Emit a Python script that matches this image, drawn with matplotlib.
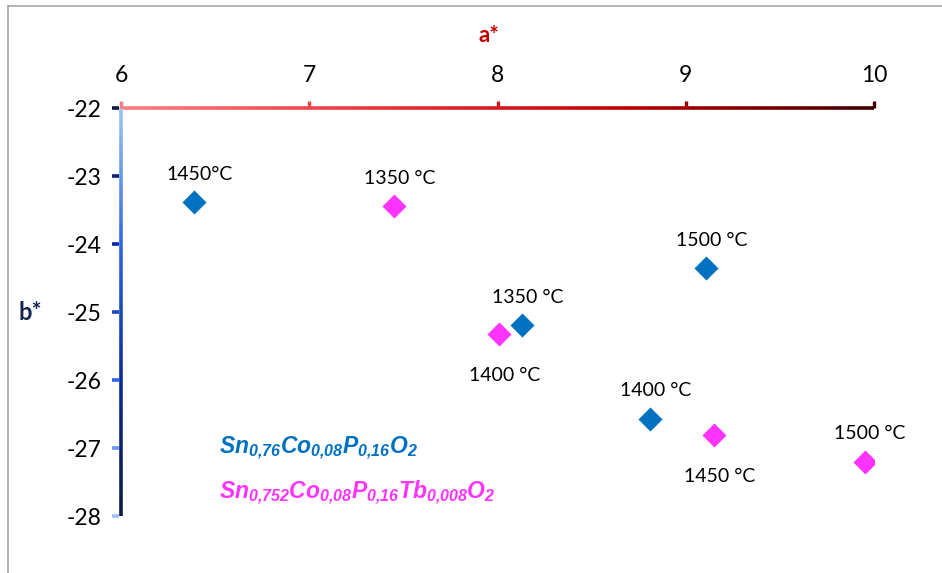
import numpy as np
import matplotlib.pyplot as plt
from matplotlib.collections import LineCollection
from matplotlib.colors import LinearSegmentedColormap
from matplotlib.lines import Line2D

plt.rcParams['font.family'] = ['Lato', 'DejaVu Sans']
plt.rcParams['axes.unicode_minus'] = False
plt.rcParams['mathtext.fontset'] = 'custom'
plt.rcParams['mathtext.it'] = 'Liberation Sans:italic:bold'
plt.rcParams['mathtext.rm'] = 'Liberation Sans:italic:bold'

# data
a_co = [6.39, 9.11, 8.13, 8.81]
b_co = [-23.38, -24.35, -25.19, -26.57]
t_co = ['1450°C', '1500 °C', '1350 °C', '1400 °C']
pos_co = ['above', 'above', 'above', 'above']

a_tb = [7.45, 8.01, 9.15, 9.95]
b_tb = [-23.44, -25.32, -26.81, -27.2]
t_tb = ['1350 °C', '1400 °C', '1450 °C', '1500 °C']
pos_tb = ['above', 'below', 'below', 'above']

xticks = [6, 7, 8, 9, 10]
yticks = [-22, -23, -24, -25, -26, -27, -28]

blue = '#0070C0'
pink = '#FF33FF'

fig = plt.figure(figsize=(9.42, 5.73), dpi=100)
ax = fig.add_axes([121 / 942, 1 - 516 / 573, 753 / 942, 408 / 573])

# frame of the chart area (only left and top visible)
fig.add_artist(Line2D([8 / 942, 8 / 942], [0, 1 - 6 / 573], color='#A6A6A6', lw=1.2))
fig.add_artist(Line2D([8 / 942, 1], [1 - 6 / 573, 1 - 6 / 573], color='#A6A6A6', lw=1.2))

ax.scatter(a_co, b_co, marker='D', s=150, color=blue, zorder=3, linewidths=0)
ax.scatter(a_tb, b_tb, marker='D', s=150, color=pink, zorder=3, linewidths=0)

for xs, ys, ts, ps in [(a_co, b_co, t_co, pos_co), (a_tb, b_tb, t_tb, pos_tb)]:
    for x, y, t, p in zip(xs, ys, ts, ps):
        off = 20 if p == 'above' else -30
        ax.annotate(t, (x, y), xytext=(4, off), textcoords='offset points',
                    ha='center', va='center', fontsize=14, color='black')

ax.set_xlim(6, 10)
ax.set_ylim(-28, -22)
ax.set_xticks(xticks)
ax.set_yticks(yticks)
for s in ax.spines.values():
    s.set_visible(False)

ax.xaxis.tick_top()
ax.tick_params(axis='x', length=0, labelsize=16.5, pad=16)
ax.tick_params(axis='y', length=0, labelsize=16.5, pad=14)

# gradient axis lines
red_cmap = LinearSegmentedColormap.from_list('r', ['#FF7C80', '#E8343A', '#C00000', '#3F0000'])
blue_cmap = LinearSegmentedColormap.from_list('b', ['#9DC3F7', '#2E66E0', '#0A2A9A', '#0A1A40'])

n = 200
xs = np.linspace(0, 1, n + 1)
segs = [[(xs[i], 1), (xs[i + 1], 1)] for i in range(n)]
lc = LineCollection(segs, colors=red_cmap(xs[:-1]), linewidths=2.6,
                    transform=ax.transAxes, clip_on=False, capstyle='butt')
ax.add_collection(lc)
segs = [[(0, 1 - xs[i]), (0, 1 - xs[i + 1])] for i in range(n)]
lc = LineCollection(segs, colors=blue_cmap(xs[:-1]), linewidths=2.6,
                    transform=ax.transAxes, clip_on=False, capstyle='butt')
ax.add_collection(lc)

# tick marks, coloured along the gradient
for i, t in enumerate(xticks):
    ax.plot([t, t], [1, 1.018], transform=ax.get_xaxis_transform(), clip_on=False,
            color=red_cmap(i / (len(xticks) - 1)), lw=2.4, solid_capstyle='butt')
for i, t in enumerate(yticks):
    # tick colours run the other way on the b* axis
    ax.plot([-0.012, -0.002], [t, t], transform=ax.get_yaxis_transform(), clip_on=False,
            color=blue_cmap((t + 28) / 6), lw=2.6, solid_capstyle='butt', zorder=4)

fig.text(489 / 942, 1 - 36 / 573, 'a*', color='#C00000', fontsize=16,
         fontweight='bold', ha='center', va='center')
fig.text(30 / 942, 1 - 312 / 573, 'b*', color='#14234F', fontsize=17,
         fontweight='bold', ha='center', va='center')

fig.text(219 / 942, 1 - 448 / 573,
         r'$\mathit{Sn_{0{,}76}Co_{0{,}08}P_{0{,}16}O_2}$',
         color=blue, fontsize=16.5, ha='left', va='center')
fig.text(219 / 942, 1 - 493 / 573,
         r'$\mathit{Sn_{0{,}752}Co_{0{,}08}P_{0{,}16}Tb_{0{,}008}O_2}$',
         color=pink, fontsize=16.5, ha='left', va='center')

fig.savefig('out.png', dpi=100)
